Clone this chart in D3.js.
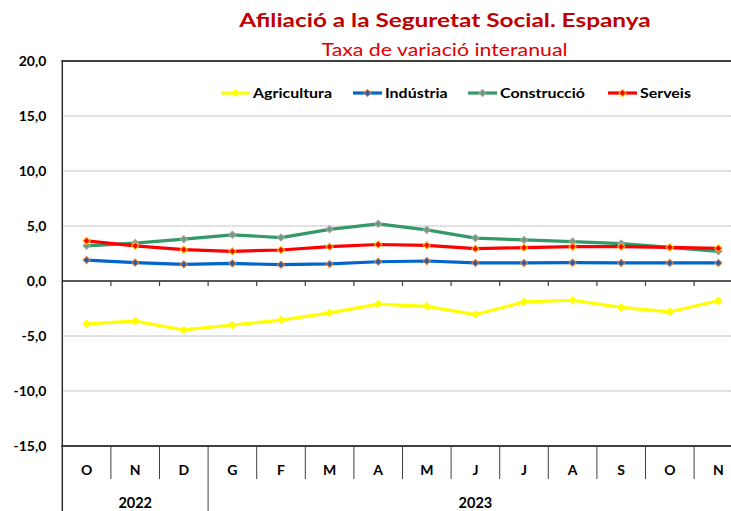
<!DOCTYPE html>
<html>
<head>
<meta charset="utf-8">
<script src="https://cdn.jsdelivr.net/npm/d3@7"></script>
<style>
  body { margin: 0; background: #fff; overflow: hidden; }
  svg { display: block; font-family: Lato, "Liberation Sans", sans-serif; }
</style>
</head>
<body>
<script>
var w = 731;
var h = 511;

// data
var months = ["O", "N", "D", "G", "F", "M", "A", "M", "J", "J", "A", "S", "O", "N"];
var years = [
    { label: "2022", from: 0, to: 3 },
    { label: "2023", from: 3, to: 14 }
];
var agricultura = [-3.9, -3.65, -4.45, -4.0, -3.55, -2.9, -2.1, -2.3, -3.05, -1.9, -1.75, -2.4, -2.8, -1.8];
var industria   = [1.9, 1.67, 1.52, 1.6, 1.48, 1.55, 1.75, 1.82, 1.64, 1.64, 1.67, 1.64, 1.64, 1.64];
var construccio = [3.2, 3.45, 3.8, 4.2, 3.95, 4.7, 5.2, 4.65, 3.9, 3.73, 3.58, 3.4, 3.05, 2.7];
var serveis     = [3.65, 3.2, 2.85, 2.7, 2.82, 3.12, 3.32, 3.24, 2.94, 3.03, 3.12, 3.12, 3.06, 2.97];
var yTicks = [-15, -10, -5, 0, 5, 10, 15, 20];

var series = [
    { name: "Agricultura", values: agricultura, line: "#ffff00", fill: "#ffff00", stroke: "#ffff00" },
    { name: "Indústria",   values: industria,   line: "#0066cc", fill: "#1f5fb0", stroke: "#ed7d31" },
    { name: "Construcció", values: construccio, line: "#339966", fill: "#6f9a84", stroke: "#a5a5a5" },
    { name: "Serveis",     values: serveis,     line: "#ff0000", fill: "#ff0000", stroke: "#ffc000" }
];
var legendX = [221, 353, 468, 608];

// plot box (the picture is cut at the right edge)
var pLeft = 62.3, pRight = 742.7, pTop = 61, pBottom = 446;
var sx = 1.14; // the source picture is stretched sideways

var locale = d3.formatLocale({ decimal: ",", thousands: ".", grouping: [3], currency: ["", "€"], minus: "-" });
var fmt = locale.format(".1f");

var svg = d3.select("body").append("svg")
    .attr("width", w)
    .attr("height", h);

var x = d3.scaleBand()
    .domain(d3.range(months.length))
    .range([pLeft, pRight])
    .padding(0);

var y = d3.scaleLinear()
    .domain([-15, 20])
    .range([pBottom, pTop]);

function stretched(g, px, py, k) {
    return g.append("g")
        .attr("transform", "translate(" + px + "," + py + ") scale(" + k + ",1)")
        .append("text");
}

// titles
stretched(svg, 445, 27, 1.25)
    .attr("text-anchor", "middle")
    .attr("fill", "#c00000")
    .attr("font-weight", "bold")
    .attr("font-size", "19.5px")
    .text("Afiliació a la Seguretat Social. Espanya");

stretched(svg, 444.5, 56, 1.29)
    .attr("text-anchor", "middle")
    .attr("fill", "#e00000")
    .attr("font-size", "16.5px")
    .text("Taxa de variació interanual");

// dotted grid
svg.append("g")
    .selectAll("line")
    .data(yTicks.filter(function(d) { return d !== 0 && d !== 20 && d !== -15; }))
    .enter()
    .append("line")
    .attr("x1", pLeft).attr("x2", pRight)
    .attr("y1", function(d) { return y(d); })
    .attr("y2", function(d) { return y(d); })
    .attr("stroke", "#8c8c8c")
    .attr("stroke-width", 1)
    .attr("stroke-dasharray", "1,1");

// y axis labels
var yAxis = d3.axisLeft(y)
    .tickValues(yTicks)
    .tickFormat(fmt)
    .tickSize(0)
    .tickPadding(16);

var gy = svg.append("g")
    .attr("transform", "translate(" + pLeft + ",0)")
    .call(yAxis);
gy.select(".domain").remove();
gy.selectAll("text")
    .attr("font-family", "Lato, 'Liberation Sans', sans-serif")
    .attr("font-size", "14px")
    .attr("font-weight", "bold")
    .attr("fill", "#000");

// plot frame
svg.append("line")
    .attr("x1", pLeft - 1).attr("x2", pRight)
    .attr("y1", pTop).attr("y2", pTop)
    .attr("stroke", "#404040").attr("stroke-width", 2);
svg.append("line")
    .attr("x1", pLeft - 1).attr("x2", pRight)
    .attr("y1", pBottom).attr("y2", pBottom)
    .attr("stroke", "#404040").attr("stroke-width", 2);
svg.append("line")
    .attr("x1", pLeft).attr("x2", pLeft)
    .attr("y1", pTop).attr("y2", h)
    .attr("stroke", "#303030").attr("stroke-width", 1.5);

// zero line with ticks
svg.append("line")
    .attr("x1", pLeft).attr("x2", pRight)
    .attr("y1", y(0)).attr("y2", y(0))
    .attr("stroke", "#202020").attr("stroke-width", 1.5);
svg.append("g")
    .selectAll("line")
    .data(d3.range(1, months.length))
    .enter()
    .append("line")
    .attr("x1", function(d) { return x(d); })
    .attr("x2", function(d) { return x(d); })
    .attr("y1", y(0)).attr("y2", y(0) + 5)
    .attr("stroke", "#404040").attr("stroke-width", 1.2);

// category table under the plot
svg.append("g")
    .selectAll("line")
    .data(d3.range(1, months.length))
    .enter()
    .append("line")
    .attr("x1", function(d) { return x(d); })
    .attr("x2", function(d) { return x(d); })
    .attr("y1", pBottom)
    .attr("y2", function(d) {
        var isYearEdge = years.some(function(yr) { return yr.from === d; });
        return isYearEdge ? h : 479;
    })
    .attr("stroke", "#404040").attr("stroke-width", 1);

svg.append("g")
    .selectAll("text")
    .data(months)
    .enter()
    .append("text")
    .attr("x", function(d, i) { return x(i) + x.bandwidth() / 2; })
    .attr("y", 475)
    .attr("text-anchor", "middle")
    .attr("font-size", "14px")
    .attr("font-weight", "bold")
    .text(function(d) { return d; });

svg.append("g")
    .selectAll("text")
    .data(years)
    .enter()
    .append("text")
    .attr("x", function(d) { return (x(d.from) + (d.to < months.length ? x(d.to) : pRight)) / 2; })
    .attr("y", 508)
    .attr("text-anchor", "middle")
    .attr("font-size", "14.5px")
    .attr("font-weight", "bold")
    .text(function(d) { return d.label; });

// lines and markers
var line = d3.line()
    .x(function(d, i) { return x(i) + x.bandwidth() / 2; })
    .y(function(d) { return y(d); });

var marker = d3.symbol().type(d3.symbolSquare).size(26);

series.forEach(function(s) {
    var g = svg.append("g");
    g.append("path")
        .datum(s.values)
        .attr("d", line)
        .attr("fill", "none")
        .attr("stroke", s.line)
        .attr("stroke-width", 3.2)
        .attr("stroke-linejoin", "round");
    g.selectAll("path.pt")
        .data(s.values)
        .enter()
        .append("path")
        .attr("class", "pt")
        .attr("d", marker)
        .attr("transform", function(d, i) {
            return "translate(" + (x(i) + x.bandwidth() / 2) + "," + y(d) + ") rotate(45)";
        })
        .attr("fill", s.fill)
        .attr("stroke", s.stroke)
        .attr("stroke-width", 1);
});

// legend
var legend = svg.append("g")
    .selectAll("g")
    .data(series)
    .enter()
    .append("g")
    .attr("transform", function(d, i) { return "translate(" + legendX[i] + ",93)"; });

legend.append("line")
    .attr("x1", 0).attr("x2", 29)
    .attr("stroke", function(d) { return d.line; })
    .attr("stroke-width", 3.2);
legend.append("path")
    .attr("d", marker)
    .attr("transform", "translate(14.5,0) rotate(45)")
    .attr("fill", function(d) { return d.fill; })
    .attr("stroke", function(d) { return d.stroke; });
legend.append("text")
    .attr("transform", "translate(32,5) scale(" + sx + ",1)")
    .attr("font-size", "14px")
    .attr("font-weight", "bold")
    .text(function(d) { return d.name; });
</script>
</body>
</html>
